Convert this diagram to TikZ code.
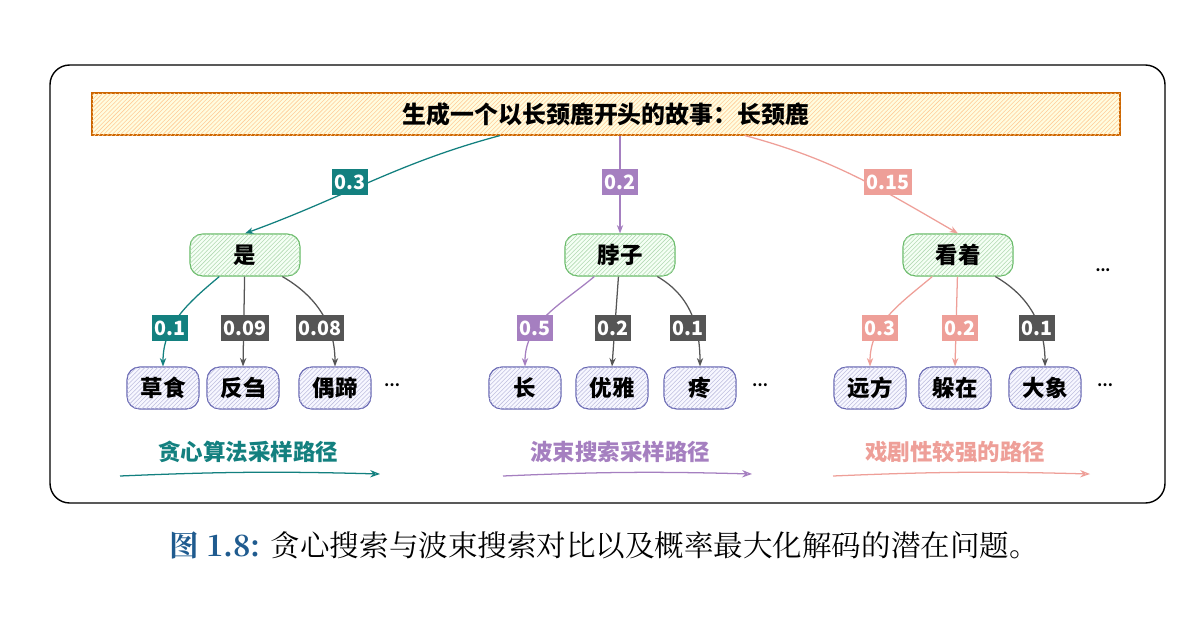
\documentclass[tikz,border=0pt]{standalone}
\usepackage{fontspec}
\setmainfont{Noto Sans CJK SC}
\newfontfamily\capfont{Noto Serif CJK SC}
\usetikzlibrary{patterns,arrows.meta}
\definecolor{tealc}{HTML}{13807F}
\definecolor{purp}{HTML}{A57FC0}
\definecolor{pinkc}{HTML}{EE9F98}
\definecolor{grayc}{HTML}{555555}
\definecolor{capblue}{HTML}{1F5B8F}
\tikzset{
  wordA/.style={draw=green!55!black!60, line width=0.8pt, rounded corners=9pt, fill=green!4,
    postaction={pattern=north east lines, pattern color=green!50!black!30},
    minimum width=110\unitpx, minimum height=42\unitpx, font=\bfseries\fontsize{16}{16}\selectfont},
  wordB/.style={draw=blue!50!black!60, line width=0.8pt, rounded corners=9pt, fill=blue!3,
    postaction={pattern=north east lines, pattern color=blue!50!black!25},
    minimum width=72\unitpx, minimum height=42\unitpx, font=\bfseries\fontsize{16}{16}\selectfont},
  prob/.style={fill=#1, text=white, font=\bfseries\fontsize{14}{14}\selectfont, inner sep=2pt, minimum height=26\unitpx},
  link/.style={draw=#1, line width=0.9pt, -{Stealth[length=6pt]}},
  pathlabel/.style={text=#1, font=\bfseries\fontsize{16}{16}\selectfont},
}
\newcommand{\unitpx}{*0.025cm}
\begin{document}
\begin{tikzpicture}[x=0.025cm, y=-0.025cm]
\useasboundingbox (0,0) rectangle (1200,618);
\draw[line width=1pt, rounded corners=14pt] (50,65) rectangle (1165,503);
% prompt bar
\node[draw=orange!80!black, line width=0.8pt, fill=yellow!12,
  postaction={pattern=north east lines, pattern color=orange!40},
  minimum width=1028\unitpx, minimum height=42\unitpx, font=\bfseries\fontsize{17}{17}\selectfont]
  (prompt) at (606,114) {生成一个以长颈鹿开头的故事：长颈鹿};
% first level
\node[wordA] (shi) at (245,255) {是};
\node[wordA] (bozi) at (620,255) {脖子};
\node[wordA] (kanzhe) at (958,255) {看着};
\node[font=\bfseries] (dotsA) at (1103,270) {...};
\draw[link=tealc] (prompt.south -| 500,0) to[out=-165,in=20] (shi.north);
\draw[link=purp] (prompt.south -| 620,0) -- (bozi.north);
\draw[link=pinkc] (prompt.south -| 745,0) to[out=-15,in=150] (kanzhe.north);
\node[prob=tealc] (pa) at (350,182) {0.3};
\node[prob=purp] (pb) at (620,182) {0.2};
\node[prob=pinkc] (pc) at (888,182) {0.15};
% second level
\foreach \name/\txt/\x in {caoshi/草食/163, fanchu/反刍/243, outi/偶蹄/335,
  chang/长/525, youya/优雅/612, teng/疼/700, yuanfang/远方/870, duozai/躲在/955, daxiang/大象/1045}
  \node[wordB] (\name) at (\x,388) {\txt};
\foreach \x in {392,760,1105}
  \node[font=\bfseries] at (\x,385) {…};
\draw[link=tealc] (shi) to[out=-140,in=90] (caoshi.north);
\draw[link=grayc] (shi) -- (fanchu.north);
\draw[link=grayc] (shi) to[out=-30,in=90] (outi.north);
\draw[link=purp] (bozi) to[out=-140,in=90] (chang.north);
\draw[link=grayc] (bozi) -- (youya.north);
\draw[link=grayc] (bozi) to[out=-30,in=90] (teng.north);
\draw[link=pinkc] (kanzhe) to[out=-140,in=90] (yuanfang.north);
\draw[link=pinkc] (kanzhe) -- (duozai.north);
\draw[link=grayc] (kanzhe) to[out=-30,in=90] (daxiang.north);
\foreach \c/\v/\x in {tealc/0.1/170, grayc/0.09/245, grayc/0.08/320, purp/0.5/535, grayc/0.2/613,
  grayc/0.1/688, pinkc/0.3/880, pinkc/0.2/960, grayc/0.1/1037}
  \node[prob=\c] at (\x,328) {\v};
% path labels
\node[pathlabel=tealc] (greedy) at (248,452) {贪心算法采样路径};
\node[pathlabel=purp] (beam) at (620,452) {波束搜索采样路径};
\node[pathlabel=pinkc] (drama) at (955,452) {戏剧性较强的路径};
\coordinate (ga) at (120,476); \coordinate (gb) at (380,474);
\coordinate (ba) at (503,476); \coordinate (bb) at (752,474);
\coordinate (da) at (833,476); \coordinate (db) at (1090,474);
\draw[tealc, line width=0.9pt, -{Stealth[length=7pt, open]}] (ga) to[bend left=2] (gb);
\draw[purp, line width=0.9pt, -{Stealth[length=7pt, open]}] (ba) to[bend left=2] (bb);
\draw[pinkc, line width=0.9pt, -{Stealth[length=7pt, open]}] (da) to[bend left=2] (db);
% caption
\node[font=\fontsize{21}{21}\selectfont\capfont] (cap) at (604,546)
  {\textcolor{capblue}{\bfseries 图 1.8:} 贪心搜索与波束搜索对比以及概率最大化解码的潜在问题。};
\end{tikzpicture}
\end{document}
